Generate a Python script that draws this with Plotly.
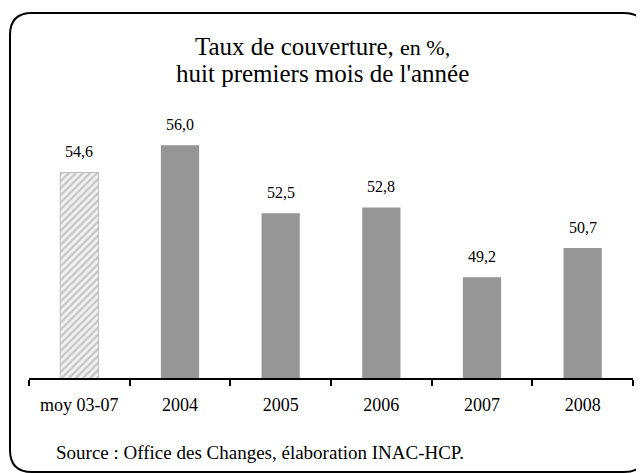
import plotly.graph_objects as go

categories = ['moy 03-07', '2004', '2005', '2006', '2007', '2008']
values = [54.6, 56.0, 52.5, 52.8, 49.2, 50.7]
labels = [f'{v:.1f}'.replace('.', ',') for v in values]

serif = 'Liberation Serif, Times New Roman, serif'
# page is shown with an 8px body margin, so the figure is 8px smaller
OFF = 8
W, H = 644 - OFF, 473 - OFF
ml, mr, mt, mb = 21, 11, 21, 95

fig = go.Figure()
fig.add_trace(go.Bar(
    x=categories[:1], y=values[:1],
    marker=dict(color='#e6e6e6', line=dict(color='#bdbdbd', width=1),
                pattern=dict(shape='/', fgcolor='#9a9a9a', bgcolor='#f2f2f2',
                             size=5, solidity=0.45)),
    width=0.38, showlegend=False))
fig.add_trace(go.Bar(
    x=categories[1:], y=values[1:],
    marker=dict(color='#969696', line=dict(width=0)),
    width=0.38, showlegend=False))

# value labels above bars (x given as category index)
for i, (v, t) in enumerate(zip(values, labels)):
    fig.add_annotation(x=i, y=v, text=t, showarrow=False, yanchor='middle',
                       yshift=21, font=dict(family=serif, size=16, color='black'))

# helpers: page pixel -> paper (plot-area) coordinates
W_plot = W - ml - mr
H_plot = H - mt - mb
def ppx(x): return (x - OFF - ml) / W_plot
def ppy(y): return (H - mb - (y - OFF)) / H_plot

fig.add_annotation(xref='paper', yref='paper', x=ppx(322), y=ppy(46),
                   xanchor='center', yanchor='middle', showarrow=False,
                   text='Taux de couverture, <span style="font-size:22px">en %,</span>',
                   font=dict(family=serif, size=25, color='black'))
fig.add_annotation(xref='paper', yref='paper', x=ppx(322), y=ppy(74),
                   xanchor='center', yanchor='middle', showarrow=False,
                   text="huit premiers mois de l'année",
                   font=dict(family=serif, size=25, color='black'))

fig.add_annotation(xref='paper', yref='paper', x=ppx(54), y=ppy(452),
                   xanchor='left', yanchor='middle', showarrow=False,
                   text='Source : Office des Changes, élaboration INAC-HCP.',
                   font=dict(family=serif, size=19, color='black'))

# rounded frame (partly outside the picture on the right and bottom)
x0, y0, x1, y1, r = 10, 13, 646, 472, 22
path = (f'M {ppx(x0 + r)},{ppy(y0)} L {ppx(x1 - r)},{ppy(y0)} '
        f'Q {ppx(x1)},{ppy(y0)} {ppx(x1)},{ppy(y0 + r)} '
        f'L {ppx(x1)},{ppy(y1 - r)} Q {ppx(x1)},{ppy(y1)} {ppx(x1 - r)},{ppy(y1)} '
        f'L {ppx(x0 + r)},{ppy(y1)} Q {ppx(x0)},{ppy(y1)} {ppx(x0)},{ppy(y1 - r)} '
        f'L {ppx(x0)},{ppy(y0 + r)} Q {ppx(x0)},{ppy(y0)} {ppx(x0 + r)},{ppy(y0)} Z')
fig.add_shape(type='path', xref='paper', yref='paper', path=path,
              line=dict(color='black', width=2), layer='above')

fig.update_layout(
    width=W, height=H,
    margin=dict(l=ml, r=mr, t=mt, b=mb),
    paper_bgcolor='white', plot_bgcolor='white',
    barmode='overlay',
    xaxis=dict(type='category', categoryorder='array', categoryarray=categories,
               showline=True, linecolor='black', linewidth=1.8,
               ticks='outside', tickson='boundaries', ticklen=6, tickcolor='black',
               tickwidth=1.8, ticklabelstandoff=9,
               tickfont=dict(family=serif, size=18, color='black'),
               showgrid=False),
    yaxis=dict(range=[44, 62], showgrid=False, showticklabels=False,
               zeroline=False, showline=False, ticks=''),
)

fig.write_html('out.html')
